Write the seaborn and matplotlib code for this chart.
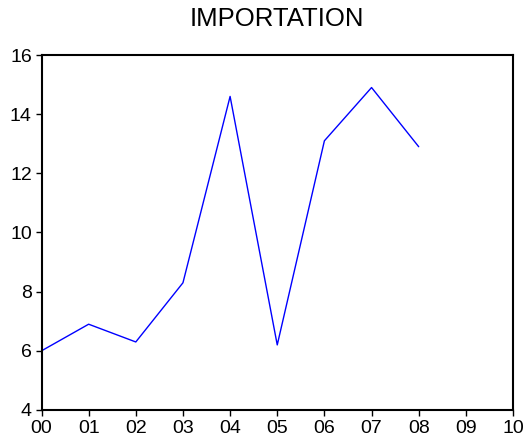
import numpy as np
import pandas as pd
import seaborn as sns
import matplotlib
matplotlib.use('Agg')
import matplotlib.pyplot as plt

# Values
years = [0, 1, 2, 3, 4, 5, 6, 7, 8]
importation = [6.0, 6.9, 6.3, 8.3, 14.6, 6.2, 13.1, 14.9, 12.9]
xtick_labels = ['00', '01', '02', '03', '04', '05', '06', '07', '08', '09', '10']

df = pd.DataFrame({'year': years, 'importation': importation})

sns.set_style('white')
plt.rcParams['font.family'] = ['Liberation Sans', 'DejaVu Sans']

fig = plt.figure(figsize=(5.26, 4.47), dpi=100)
ax = fig.add_axes([41.5 / 526, 1 - 410 / 447, (513 - 41.5) / 526, (410 - 55) / 447])

sns.lineplot(data=df, x='year', y='importation', color='blue', linewidth=1.0, ax=ax)

ax.set_xlim(0, 10)
ax.set_ylim(4, 16)
ax.set_xticks(range(11))
ax.set_xticklabels(xtick_labels)
ax.set_yticks(range(4, 17, 2))
ax.set_xlabel('')
ax.set_ylabel('')
ax.set_title('IMPORTATION', fontsize=18.5, color='black', pad=21)

for s in ax.spines.values():
    s.set_color('black')
    s.set_linewidth(1.5)
ax.tick_params(axis='both', direction='out', length=4, width=1, colors='black',
               labelsize=14, bottom=True, left=True, pad=3)

fig.savefig('out.png', dpi=100)
